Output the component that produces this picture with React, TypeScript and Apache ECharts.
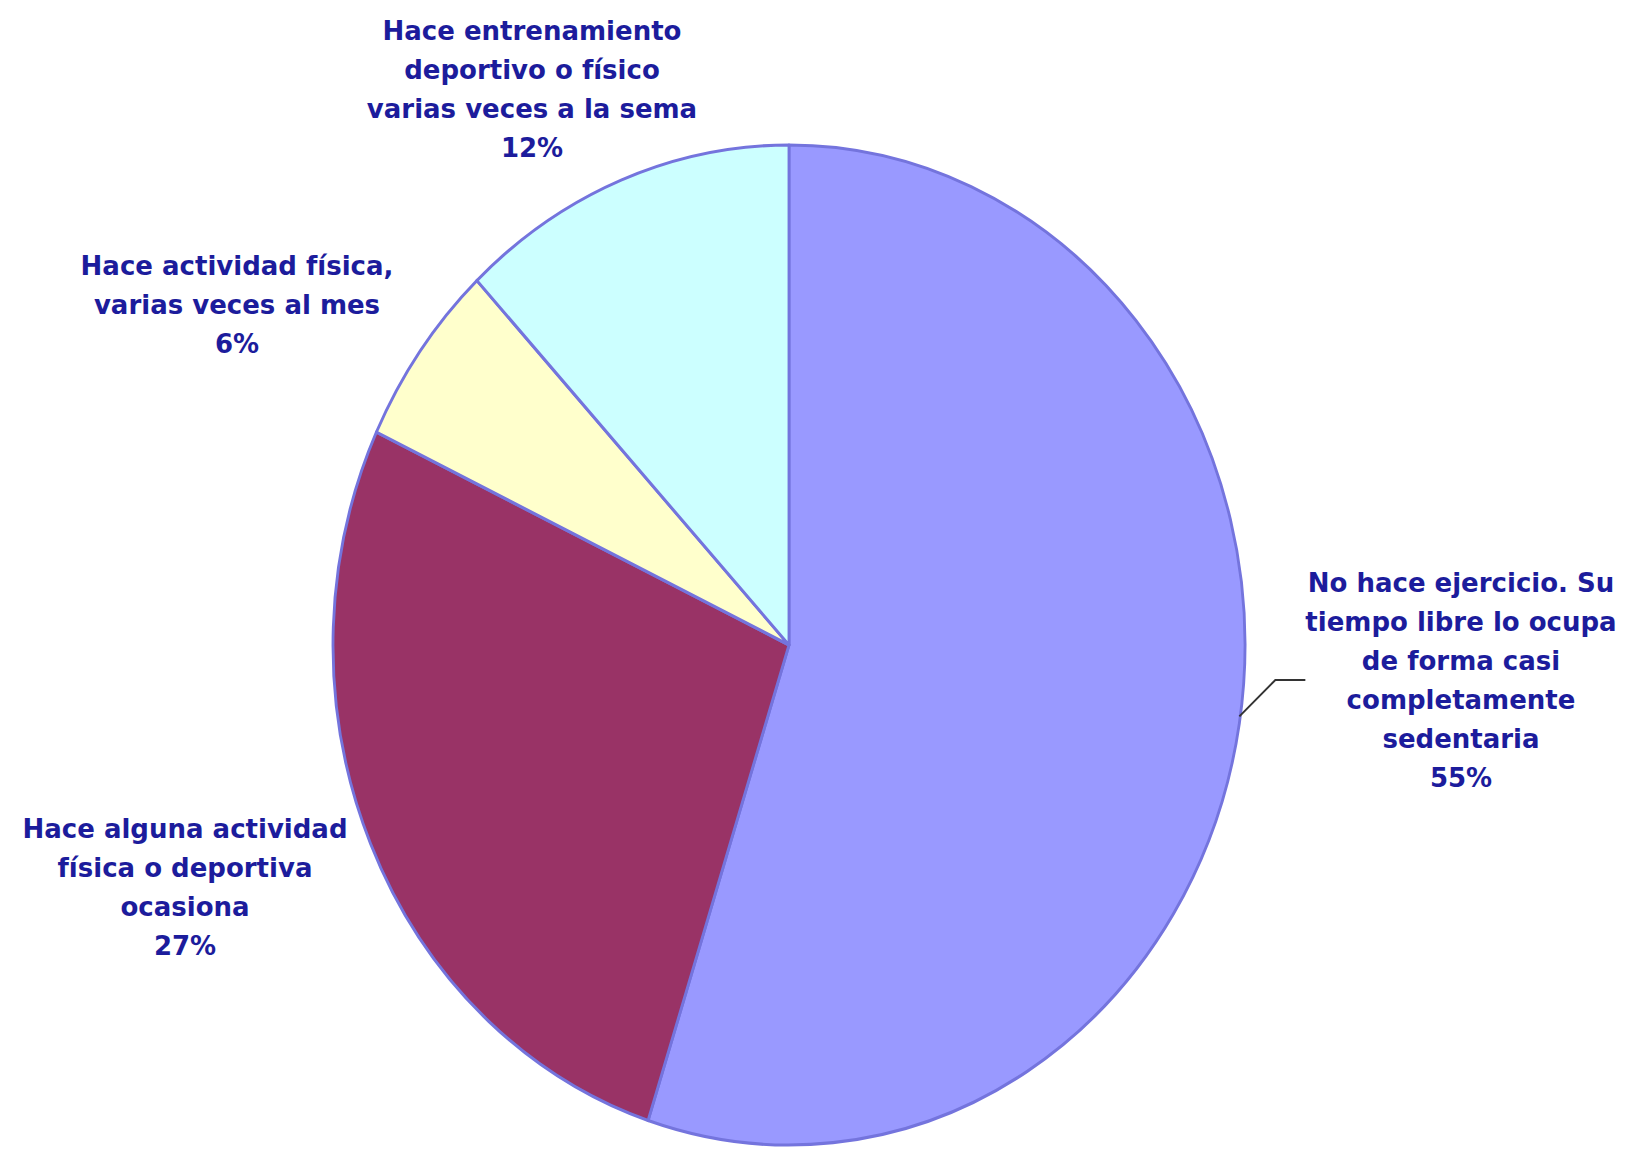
import React, { useEffect, useRef } from "react";
import * as echarts from "echarts";

const categories = [
  "No hace ejercicio. Su\ntiempo libre lo ocupa\nde forma casi\ncompletamente\nsedentaria",
  "Hace alguna actividad\nfísica o deportiva\nocasiona",
  "Hace actividad física,\nvarias veces al mes",
  "Hace entrenamiento\ndeportivo o físico\nvarias veces a la sema",
];
const values = [55, 27, 6, 12];
const colors = ["#9999FF", "#993366", "#FFFFCC", "#CCFFFF"];

// label block anchors (center x, top y) in pixels
const labelAnchors = [
  [1461, 563],
  [185, 809],
  [237, 246],
  [532, 11],
];

const CX = 789;
const CY = 645;
const RX = 456;
const RY = 500;
const R = 480;

export default function App() {
  const pieRef = useRef<HTMLDivElement>(null);
  const labelRef = useRef<HTMLDivElement>(null);
  useEffect(() => {
    if (!pieRef.current || !labelRef.current) return;
    const pie = echarts.init(pieRef.current, null, { renderer: "svg" });
    const lab = echarts.init(labelRef.current, null, { renderer: "svg" });
    pie.setOption({
      animation: false,
      backgroundColor: "#ffffff",
      series: [
        {
          type: "pie",
          center: [CX, CY],
          radius: R,
          startAngle: 90,
          clockwise: true,
          itemStyle: { borderColor: "#7474dd", borderWidth: 3 },
          label: { show: false },
          labelLine: { show: false },
          emphasis: { disabled: true },
          data: categories.map((name, i) => ({
            name,
            value: values[i],
            itemStyle: { color: colors[i] },
          })),
        },
      ],
    });
    lab.setOption({
      animation: false,
      series: [
        {
          type: "pie",
          center: [CX, CY],
          radius: RX,
          startAngle: 90,
          clockwise: true,
          avoidLabelOverlap: false,
          silent: true,
          itemStyle: { color: "rgba(0,0,0,0)", borderWidth: 0 },
          label: {
            show: true,
            position: "outside",
            formatter: (p: any) => `${p.name}\n${Math.round(p.percent)}%`,
            color: "#1c1c9c",
            fontSize: 26,
            fontWeight: "bold",
            fontFamily: "DejaVu Sans",
            lineHeight: 39,
            align: "center",
          },
          labelLine: { show: false },
          emphasis: { disabled: true },
          labelLayout: (params: any) => {
            const a = labelAnchors[params.dataIndex];
            return { x: a[0], y: a[1], align: "center", verticalAlign: "top" };
          },
          data: categories.map((name, i) => ({
            name,
            value: values[i],
            labelLine:
              i === 0
                ? { show: true, length: 20, length2: 30, lineStyle: { color: "#333333", width: 2 } }
                : { show: false },
          })),
        },
      ],
    });
    return () => {
      pie.dispose();
      lab.dispose();
    };
  }, []);
  return (
    <div style={{ position: "fixed", left: 0, top: 0, width: 1628, height: 1153, background: "#fff", overflow: "hidden" }}>
      <div
        ref={pieRef}
        style={{
          position: "absolute",
          left: 0,
          top: 0,
          width: 1628,
          height: 1153,
          transformOrigin: `${CX}px ${CY}px`,
          transform: `scale(${RX / R}, ${RY / R})`,
        }}
      />
      <div
        ref={labelRef}
        style={{ position: "absolute", left: 0, top: 0, width: 1628, height: 1153 }}
      />
    </div>
  );
}
